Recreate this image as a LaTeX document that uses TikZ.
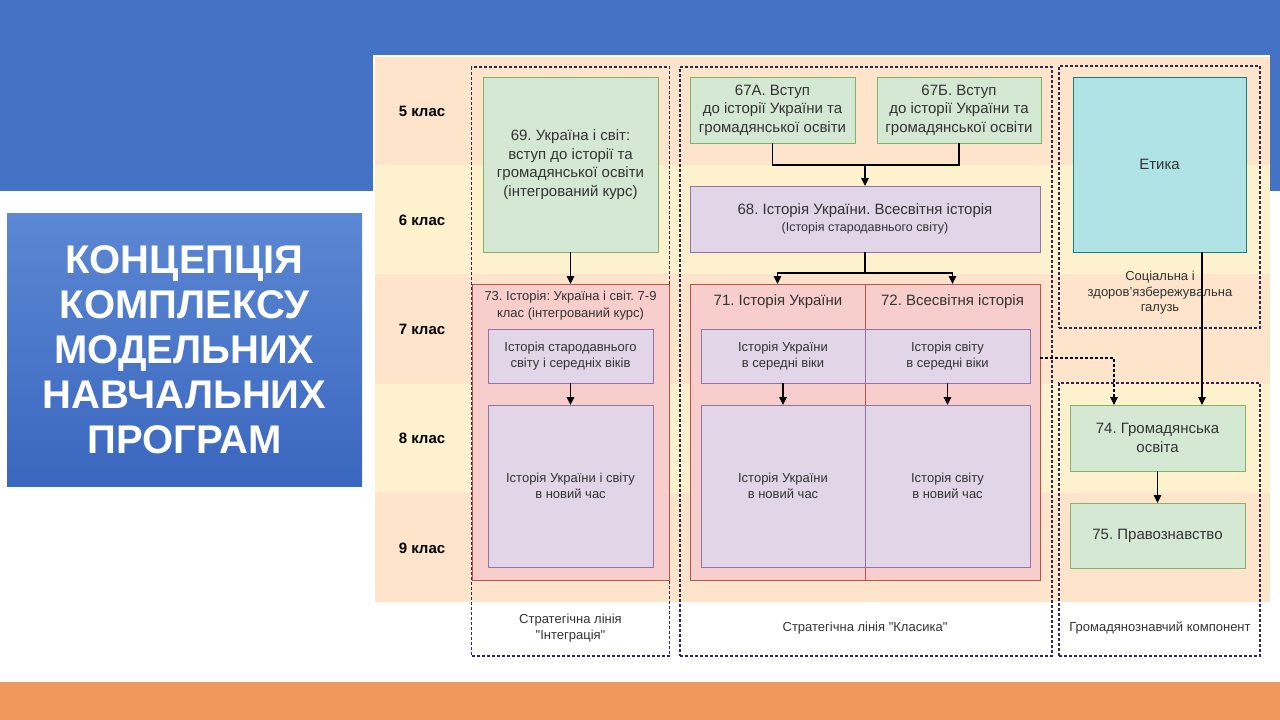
\documentclass[tikz,border=0pt]{standalone}
\usepackage{fontspec}
\setmainfont{Liberation Sans}
\newfontfamily\qfont{Liberation Sans}
\usetikzlibrary{arrows.meta}
\newcommand{\sq}{{\qfont\symbol{34}}}
\definecolor{band}{HTML}{4472C4}
\definecolor{peach}{HTML}{FDE4CB}
\definecolor{cream}{HTML}{FEF1CD}
\definecolor{gfill}{HTML}{D5E8D4}
\definecolor{gline}{HTML}{82B366}
\definecolor{rfill}{HTML}{F8CECC}
\definecolor{rline}{HTML}{B85450}
\definecolor{pfill}{HTML}{E1D5E7}
\definecolor{pline}{HTML}{9673A6}
\definecolor{cfill}{HTML}{B0E3E6}
\definecolor{cline}{HTML}{0E8088}
\definecolor{txt}{HTML}{333333}
\definecolor{dashc}{HTML}{2E2A55}
\definecolor{orangebar}{HTML}{F0995B}
\definecolor{ttop}{HTML}{5B87D3}
\definecolor{tbot}{HTML}{3A67BF}
\begin{document}
\frenchspacing
\begin{tikzpicture}[x=1pt,y=-1pt,
  box/.style={draw, line width=0.8pt, inner sep=2pt, outer sep=0pt, align=center, text=txt,
    font=\fontsize{15}{18.5}\selectfont},
  gbox/.style={box, fill=gfill, draw=gline},
  rbox/.style={box, fill=rfill, draw=rline},
  pbox/.style={box, fill=pfill, draw=pline, font=\fontsize{13}{16}\selectfont},
  cbox/.style={box, fill=cfill, draw=cline},
  cont/.style={draw=dashc, dash pattern=on 3pt off 2pt, line width=1.1pt, inner sep=0pt, outer sep=0pt},
  rowlab/.style={font=\bfseries\fontsize{15}{17}\selectfont, text=black},
  lab/.style={align=center, text=txt, font=\fontsize{13}{15.5}\selectfont},
  ttl/.style={align=center, text=txt, font=\fontsize{15}{17}\selectfont},
  arr/.style={-{Triangle[length=8pt,width=7.5pt]}, line width=1.1pt, draw=black},
  ln/.style={line width=1.1pt, draw=black}
]
\useasboundingbox (0,0) rectangle (1280,720);
\fill[white] (0,0) rectangle (1280,720);
% slide decorations
\fill[band] (0,0) rectangle (1280,191);
\fill[orangebar] (0,682) rectangle (1280,720);
\shade[top color=ttop, bottom color=tbot] (7,213) rectangle (362,486);
\node[font=\bfseries\fontsize{40}{45}\selectfont, text=white, align=center] (title) at (184.5,350)
  {КОНЦЕПЦІЯ\\КОМПЛЕКСУ\\МОДЕЛЬНИХ\\НАВЧАЛЬНИХ\\ПРОГРАМ};
% diagram background
\fill[white] (373,55) rectangle (1270,672);
\fill[peach] (375,57) rectangle (1270,165);
\fill[cream] (375,165) rectangle (1270,274);
\fill[peach] (375,274) rectangle (1270,384);
\fill[cream] (375,384) rectangle (1270,493);
\fill[peach] (375,493) rectangle (1270,602);
% row labels
\node[rowlab] (r5) at (422,111) {5 клас};
\node[rowlab] (r6) at (422,220) {6 клас};
\node[rowlab] (r7) at (422,329) {7 клас};
\node[rowlab] (r8) at (422,438) {8 клас};
\node[rowlab] (r9) at (422,548) {9 клас};
% dashed containers
\node[cont, minimum width=198pt, minimum height=589pt] (cint) at (570.5,361.5) {};
\node[cont, minimum width=372pt, minimum height=589pt] (ccls) at (866,361.5) {};
\node[cont, minimum width=201pt, minimum height=262pt] (csoc) at (1159.5,197) {};
\node[cont, minimum width=201pt, minimum height=273pt] (cciv) at (1159.5,519.5) {};
% integration line
\node[gbox, minimum width=175pt, minimum height=175pt] (b69) at (570.5,164.5)
  {69. Україна і світ:\\вступ до історії та\\громадянської освіти\\(інтегрований курс)};
\node[rbox, minimum width=197pt, minimum height=296pt] (b73) at (570.5,432) {};
\node[ttl, font=\fontsize{13}{17}\selectfont, anchor=north] (t73) at (570.5,288)
  {73. Історія: Україна і світ. 7-9\\клас (інтегрований курс)};
\node[pbox, minimum width=165pt, minimum height=54pt] (p73a) at (570.5,356)
  {Історія стародавнього\\світу і середніх віків};
\node[pbox, minimum width=165pt, minimum height=162pt] (p73b) at (570.5,486)
  {Історія України і світу\\в новий час};
\draw[arr] (b69.south) -- (b73.north);
\draw[arr] (p73a.south) -- (p73b.north);
% classic line
\node[gbox, minimum width=165pt, minimum height=66pt] (b67a) at (772.5,110)
  {67А. Вступ\\до історії України та\\громадянської освіти};
\node[gbox, minimum width=164pt, minimum height=66pt] (b67b) at (959,110)
  {67Б. Вступ\\до історії України та\\громадянської освіти};
\node[box, fill=pfill, draw=pline, minimum width=350pt, minimum height=66pt] (b68) at (865,219)
  {68. Історія України. Всесвітня історія\\[-1pt]{\fontsize{12.5}{15}\selectfont (Історія стародавнього світу)}};
\coordinate (jA) at (865,165);
\coordinate (jB) at (865,273);
\draw[ln] (b67a.south) |- (jA) -| (b67b.south);
\draw[arr] (jA) -- (b68.north);
\draw[ln] (b68.south) -- (jB);
\node[rbox, minimum width=175pt, minimum height=296pt] (b71) at (777.5,432) {};
\node[rbox, minimum width=175pt, minimum height=296pt] (b72) at (952.5,432) {};
\node[ttl] (t71) at (778,302) {71. Історія України};
\node[ttl] (t72) at (952.5,302) {72. Всесвітня історія};
\node[pbox, minimum width=164pt, minimum height=54pt] (p71a) at (783,356)
  {Історія України\\в середні віки};
\node[pbox, minimum width=165pt, minimum height=54pt] (p72a) at (947.5,356)
  {Історія світу\\в середні віки};
\node[pbox, minimum width=164pt, minimum height=162pt] (p71b) at (783,486)
  {Історія України\\в новий час};
\node[pbox, minimum width=165pt, minimum height=162pt] (p72b) at (947.5,486)
  {Історія світу\\в новий час};
\draw[arr] (jB) -| (b71.north);
\draw[arr] (jB) -| (b72.north);
\draw[arr] (p71a.south) -- (p71b.north);
\draw[arr] (p72a.south) -- (p72b.north);
% civic component
\node[cbox, minimum width=173pt, minimum height=175pt] (eth) at (1159.5,164.5) {Етика};
\node[lab] (tsoc) at (1160,293) {Соціальна і\\здоров’язбережувальна\\галузь};
\node[gbox, minimum width=175pt, minimum height=66pt] (b74) at (1157.5,438)
  {74. Громадянська\\освіта};
\node[gbox, minimum width=175pt, minimum height=65pt] (b75) at (1157.5,535.5)
  {75. Правознавство};
\draw[arr] ([xshift=42.5pt]eth.south) -- ([xshift=44.5pt]b74.north);
\draw[arr] (b74.south) -- (b75.north);
\draw[arr, dash pattern=on 3pt off 2pt] ([yshift=74pt]b72.east) -| ([xshift=-43.5pt]b74.north);
% bottom labels
\node[lab] (lint) at (570.5,628) {Стратегічна лінія\\\sq Інтеграція\sq};
\node[lab] (lcls) at (865,628) {Стратегічна лінія \sq Класика\sq};
\node[lab] (lciv) at (1160,628) {Громадянознавчий компонент};
\end{tikzpicture}
\end{document}
